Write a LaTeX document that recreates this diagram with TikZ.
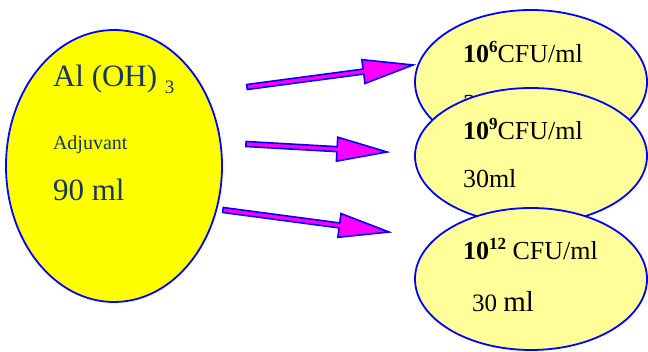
\documentclass[tikz,border=0pt]{standalone}
\usepackage{fontspec}
\setmainfont{Liberation Serif}
\usetikzlibrary{calc, shapes.geometric}
\definecolor{alumfill}{HTML}{FFFF00}
\definecolor{cfufill}{HTML}{FFFF99}
\definecolor{rim}{HTML}{0000FF}
\definecolor{arrowfill}{HTML}{FF00FF}
\definecolor{inktext}{HTML}{17375E}

% block arrow from a tail coordinate to a tip coordinate
\newcommand{\blockarrow}[2]{%
  \coordinate (#2-base) at ($(#2)!50pt!(#1)$);
  \draw[fatarrow] ($(#1)!2.5pt!90:(#2)$) -- ($(#2-base)!2.5pt!90:(#2)$)
    -- ($(#2-base)!12pt!90:(#2)$) -- (#2) -- ($(#2-base)!12pt!-90:(#2)$)
    -- ($(#2-base)!2.5pt!-90:(#2)$) -- ($(#1)!2.5pt!-90:(#2)$) -- cycle;
}

\begin{document}
\begin{tikzpicture}[
    x=1pt, y=-1pt,
    blob/.style={
        ellipse, draw=rim, line width=1.8pt, inner sep=0pt
    },
    alumblob/.style={blob, fill=alumfill, minimum width=216pt, minimum height=272pt},
    cfublob/.style={blob, fill=cfufill, minimum width=232pt, minimum height=140pt},
    lbl/.style={anchor=base west, inner sep=0pt, outer sep=0pt},
    fatarrow/.style={draw=rim, fill=arrowfill, line width=1.6pt},
]
\useasboundingbox (0,0) rectangle (648,352);

% Adjuvant
\node[alumblob] (alum) at (114,166) {};
\node[lbl, text=inktext, font=\fontsize{31}{31}\selectfont] (alumname) at (53,87)
    {Al (OH)~\raisebox{-7pt}{\fontsize{19}{19}\selectfont 3}};
\node[lbl, text=inktext, font=\fontsize{20}{20}\selectfont] (alumkind) at (53,150) {Adjuvant};
\node[lbl, text=inktext, font=\fontsize{31}{31}\selectfont] (alumvol) at (53,201) {90 ml};

% Doses
\node[cfublob, minimum height=144pt] (cfusix) at (531,82) {};
\node[lbl, font=\fontsize{26}{26}\selectfont] (sixconc) at (463,63)
    {\textbf{10}\raisebox{10pt}{\fontsize{17}{17}\selectfont\bfseries 6}CFU/ml};
\node[lbl, font=\fontsize{26}{26}\selectfont] (sixvol) at (463,113) {30ml};

\node[cfublob, minimum height=136pt] (cfunine) at (531,156) {};
\node[lbl, font=\fontsize{26}{26}\selectfont] (nineconc) at (463,140)
    {\textbf{10}\raisebox{10pt}{\fontsize{17}{17}\selectfont\bfseries 9}CFU/ml};
\node[lbl, font=\fontsize{26}{26}\selectfont] (ninevol) at (463,188) {30ml};

\node[cfublob, minimum height=142pt] (cfutwelve) at (531,279) {};
\node[lbl, font=\fontsize{26}{26}\selectfont] (twelveconc) at (463,260)
    {\textbf{10}\raisebox{10pt}{\fontsize{17}{17}\selectfont\bfseries 12} CFU/ml};
\node[lbl] (twelvevol) at (472,312)
    {{\fontsize{25}{25}\selectfont 30 }{\fontsize{29}{29}\selectfont ml}};

% Arrows
\coordinate (tailsix) at (247,87);
\coordinate (tipsix) at (413,65);
\coordinate (tailnine) at (246,144);
\coordinate (tipnine) at (387,152);
\coordinate (tailtwelve) at (223,210);
\coordinate (tiptwelve) at (389,232);
\blockarrow{tailsix}{tipsix}
\blockarrow{tailnine}{tipnine}
\blockarrow{tailtwelve}{tiptwelve}

\end{tikzpicture}
\end{document}
